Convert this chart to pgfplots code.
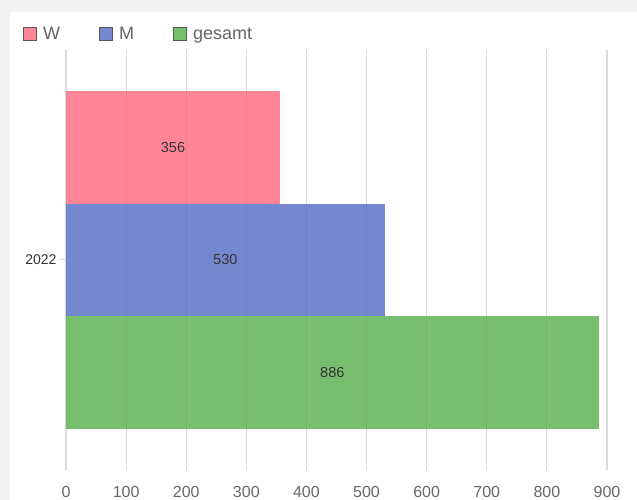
\documentclass[border=0pt]{standalone}
\usepackage{fontspec}
\setmainfont{Liberation Sans}
\usepackage{pgfplots}
\pgfplotsset{compat=1.18}
\definecolor{frame}{HTML}{F2F2F2}
\definecolor{gridc}{HTML}{DADADA}
\definecolor{textc}{HTML}{666666}
\definecolor{labc}{HTML}{333333}
\definecolor{cw}{RGB}{255,103,126}
\definecolor{cm}{RGB}{82,105,196}
\definecolor{cg}{RGB}{86,174,74}

\begin{document}
\begin{tikzpicture}
\fill[frame] (-66pt,-30pt) rectangle (571pt,470pt);
\fill[white] (-56pt,-30pt) rectangle (571pt,458pt);
\path[use as bounding box] (-66pt,-30pt) rectangle (571pt,470pt);
\begin{axis}[
    at={(0,0)}, anchor=south west,
    scale only axis,
    width=541pt, height=420pt,
    xmin=0, xmax=900,
    ymin=-0.5, ymax=0.5,
    xtick={0,100,...,900},
    ytick={0}, yticklabels={2022},
    ytick pos=left,
    xmajorgrids,
    grid style={color=gridc, line width=1.2pt},
    axis line style={draw=none},
    tick align=outside,
    major tick length=6pt,
    xtick style={draw=none},
    ytick style={draw=gridc, line width=1pt},
    /pgf/number format/assume math mode=true,
    xticklabel style={font=\fontsize{16}{19}\selectfont, text=textc, yshift=-7pt},
    yticklabel style={font=\fontsize{14}{16}\selectfont, text=labc},
    legend columns=3,
    legend style={
        at={(axis description cs:-0.0795,1.0381)}, anchor=west,
        draw=none, fill=none, inner sep=0pt,
        font=\fontsize{18}{21}\selectfont, text=textc,
        nodes={inner sep=2pt},
        /tikz/every odd column/.append style={column sep=4pt},
        /tikz/every even column/.append style={column sep=37pt},
    },
    legend image code/.code={
        \draw[#1, draw=black!65, line width=1pt] (0pt,-6.5pt) rectangle (13pt,6.5pt);
    },
]
\addplot[xbar, bar width=0.268, bar shift=0, fill=cw, fill opacity=0.8, draw=none]
    coordinates {(356,0.268)};
\addplot[xbar, bar width=0.268, bar shift=0, fill=cm, fill opacity=0.8, draw=none]
    coordinates {(530,0)};
\addplot[xbar, bar width=0.268, bar shift=0, fill=cg, fill opacity=0.8, draw=none]
    coordinates {(886,-0.268)};
\legend{W, M, gesamt}
\addplot[draw=none, forget plot, nodes near coords, point meta=explicit symbolic,
    every node near coord/.append style={anchor=center, font=\fontsize{14.5}{17}\selectfont, text=labc}]
    coordinates {(178,0.268)[356] (265,0)[530] (443,-0.268)[886]};
\end{axis}
\end{tikzpicture}
\end{document}
